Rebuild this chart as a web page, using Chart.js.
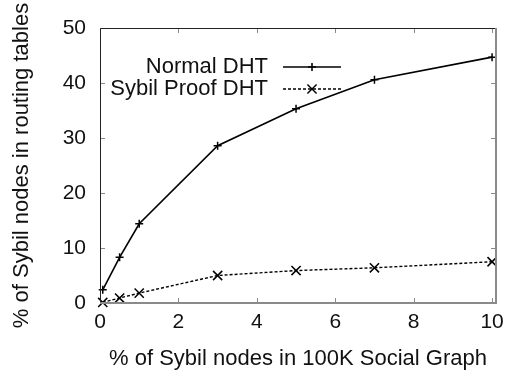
<!DOCTYPE html>
<html>
<head>
<meta charset="utf-8">
<script src="https://cdn.jsdelivr.net/npm/chart.js@4/dist/chart.umd.min.js"></script>
<style>
  html, body { margin: 0; padding: 0; background: #fff; }
  #wrap { width: 513px; height: 374px; }
</style>
</head>
<body>
<div id="wrap"><canvas id="sybilChart"></canvas></div>
<script>
// ---- data ----
const sybilShare = [0.07, 0.5, 1, 3, 5, 7, 10];          // % of Sybil nodes in social graph
const normalDht = [2.4, 8.3, 14.4, 28.6, 35.3, 40.6, 44.7];
const sybilProofDht = [0.1, 0.9, 1.8, 5.0, 5.9, 6.4, 7.5];
const xTicks = [0, 2, 4, 6, 8, 10];
const yTicks = [0, 10, 20, 30, 40, 50];

const FONT = 'Liberation Sans, Arial, Helvetica, sans-serif';

function toPoints(xs, ys) {
    return xs.map((x, i) => ({ x: x, y: ys[i] }));
}

// gnuplot-like frame with inward ticks on all four sides
const framePlugin = {
    id: 'frame',
    afterDatasetsDraw(chart) {
        const ctx = chart.ctx;
        const a = chart.chartArea;
        const xs = chart.scales.x, ys = chart.scales.y;
        const len = 5;
        ctx.save();
        ctx.strokeStyle = '#8a8a8a';
        ctx.lineWidth = 1;
        xTicks.forEach(v => {
            const px = Math.round(xs.getPixelForValue(v)) + 0.5;
            ctx.beginPath();
            ctx.moveTo(px, a.bottom); ctx.lineTo(px, a.bottom - len);
            ctx.moveTo(px, a.top); ctx.lineTo(px, a.top + len);
            ctx.stroke();
        });
        yTicks.forEach(v => {
            const py = Math.round(ys.getPixelForValue(v)) + 0.5;
            ctx.beginPath();
            ctx.moveTo(a.left, py); ctx.lineTo(a.left + len, py);
            ctx.moveTo(a.right, py); ctx.lineTo(a.right - len, py);
            ctx.stroke();
        });
        // top + left: thin dark
        ctx.strokeStyle = '#222';
        ctx.beginPath();
        ctx.moveTo(a.left + 0.5, a.bottom);
        ctx.lineTo(a.left + 0.5, a.top + 0.5);
        ctx.lineTo(a.right, a.top + 0.5);
        ctx.stroke();
        // right + bottom: heavier grey
        ctx.strokeStyle = '#8a8a8a';
        ctx.lineWidth = 2;
        ctx.beginPath();
        ctx.moveTo(a.right, a.top);
        ctx.lineTo(a.right, a.bottom);
        ctx.lineTo(a.left, a.bottom);
        ctx.stroke();
        ctx.restore();
    }
};

// legend drawn inside the plot: label on the left, line sample with marker on the right
const keyPlugin = {
    id: 'keyBox',
    afterDraw(chart) {
        const ctx = chart.ctx;
        const textRight = 268, lineStart = 283, lineEnd = 341;
        const rows = [67, 89];
        ctx.save();
        chart.data.datasets.forEach((ds, i) => {
            const y = rows[i];
            ctx.fillStyle = '#111';
            ctx.font = '22px ' + FONT;
            ctx.textAlign = 'right';
            ctx.textBaseline = 'middle';
            ctx.fillText(ds.label, textRight, y);
            ctx.strokeStyle = ds.borderColor;
            ctx.lineWidth = ds.borderWidth;
            ctx.setLineDash(ds.borderDash || []);
            ctx.beginPath();
            ctx.moveTo(lineStart, y); ctx.lineTo(lineEnd, y);
            ctx.stroke();
            ctx.setLineDash([]);
            Chart.helpers.drawPoint(ctx, {
                pointStyle: ds.pointStyle,
                radius: ds.pointRadius,
                borderWidth: ds.pointBorderWidth,
                rotation: 0
            }, (lineStart + lineEnd) / 2, y);
        });
        ctx.restore();
    }
};

new Chart(document.getElementById('sybilChart'), {
    type: 'line',
    data: {
        datasets: [
            {
                label: 'Normal DHT',
                data: toPoints(sybilShare, normalDht),
                borderColor: '#000',
                borderWidth: 1.6,
                pointStyle: 'cross',
                pointRadius: 4,
                pointBorderWidth: 1.5,
                pointBorderColor: '#000',
                tension: 0,
                clip: false
            },
            {
                label: 'Sybil Proof DHT',
                data: toPoints(sybilShare, sybilProofDht),
                borderColor: '#000',
                borderWidth: 1.4,
                borderDash: [3, 2],
                pointStyle: 'crossRot',
                pointRadius: 6.5,
                pointBorderWidth: 1.5,
                pointBorderColor: '#000',
                tension: 0,
                clip: false
            }
        ]
    },
    options: {
        responsive: true,
        maintainAspectRatio: false,
        animation: false,
        layout: { padding: { top: 28, right: 17, left: 0, bottom: 0 } },
        plugins: {
            legend: { display: false },
            tooltip: { enabled: false }
        },
        scales: {
            x: {
                type: 'linear',
                min: 0,
                max: 10.1,
                afterFit: s => { s.height = 71; },
                afterBuildTicks: s => { s.ticks = xTicks.map(v => ({ value: v })); },
                grid: { display: false, drawTicks: false },
                border: { display: false },
                ticks: { color: '#111', font: { family: FONT, size: 21 }, padding: 7, maxRotation: 0 },
                title: { display: true, text: '% of Sybil nodes in 100K Social Graph', color: '#111', font: { family: FONT, size: 22 }, padding: { top: 0, bottom: 2 } }
            },
            y: {
                type: 'linear',
                min: 0,
                max: 50,
                afterFit: s => { s.width = 100; },
                afterBuildTicks: s => { s.ticks = yTicks.map(v => ({ value: v })); },
                grid: { display: false, drawTicks: false },
                border: { display: false },
                ticks: { color: '#111', font: { family: FONT, size: 21 }, padding: 14 },
                title: { display: true, text: '% of Sybil nodes in routing tables', color: '#111', font: { family: FONT, size: 22 }, padding: { top: 9, bottom: 0 } }
            }
        }
    },
    plugins: [framePlugin, keyPlugin]
});
</script>
</body>
</html>
